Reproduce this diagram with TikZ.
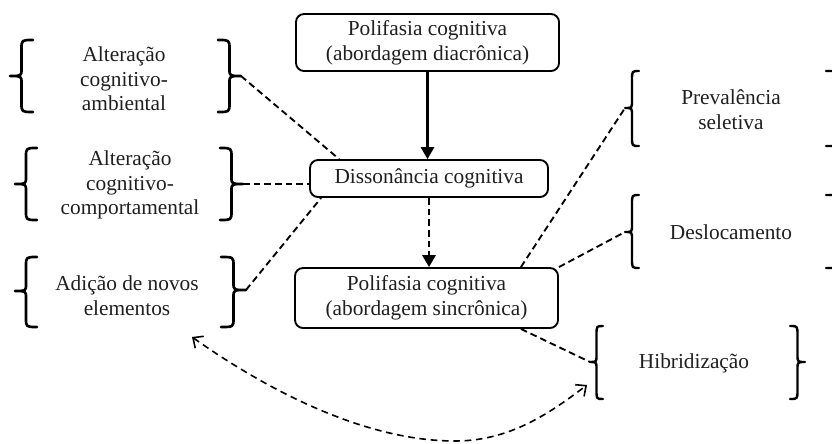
\documentclass[tikz,border=0pt]{standalone}
\usepackage{fontspec}
\setmainfont{Liberation Serif}
\usetikzlibrary{arrows.meta,calc}

% curly bracket: #2 x of the tip, #3 x of both ends, #4 top y, #5 bottom y, #6 y of the tip
\newcommand{\drawcurly}[6][]{%
  \draw[bracestyle,#1] (#3,#4)
    .. controls ({(#2+#3)/2},#4) .. ({(#2+#3)/2},{#4+9})
    -- ({(#2+#3)/2},{#6-7})
    .. controls ({(#2+#3)/2},#6) .. (#2,#6)
    .. controls ({(#2+#3)/2},#6) .. ({(#2+#3)/2},{#6+7})
    -- ({(#2+#3)/2},{#5-9})
    .. controls ({(#2+#3)/2},#5) .. (#3,#5);}

\tikzset{
  box/.style={draw, line width=1.4pt, rounded corners=6pt, align=center,
    font=\fontsize{16}{18.5}\selectfont, text=black!88, inner sep=0pt},
  lbl/.style={align=center, font=\fontsize{16}{18.5}\selectfont, text=black!88, inner sep=0pt},
  bracestyle/.style={line width=2pt, line cap=round, line join=round},
  dashline/.style={line width=1.4pt, dash pattern=on 5pt off 3pt},
  solidarrow/.style={line width=1.6pt, -{Triangle[length=9pt,width=10pt]}},
  dasharrow/.style={dashline, line width=1.6pt, -{Triangle[length=9pt,width=10pt]}},
  curvearrow/.style={line width=1.2pt, dash pattern=on 5pt off 3.5pt,
    {Straight Barb[length=6pt,width=11pt,line width=1.2pt]}-{Straight Barb[length=6pt,width=11pt,line width=1.2pt]}},
}

\begin{document}
\begin{tikzpicture}[x=0.75pt, y=-0.75pt]
  \useasboundingbox (0,0) rectangle (832,443);

  % central chain
  \node[box, minimum width=197.25pt, minimum height=42.75pt] (dia) at (427.5,42.5)
    {Polifasia cognitiva\\(abordagem diacrônica)};
  \node[box, minimum width=178.5pt, minimum height=27.75pt] (diss) at (429,178.5)
    {Dissonância cognitiva};
  \node[box, minimum width=197.25pt, minimum height=45pt] (syn) at (426.5,298)
    {Polifasia cognitiva\\(abordagem sincrônica)};

  \draw[solidarrow] (dia.south) -- (dia.south |- diss.north);
  \draw[dasharrow] (diss.south) -- (diss.south |- syn.north);

  % left group
  \node[lbl] (amb) at (124,79) {Alteração\\cognitivo-\\ambiental};
  \node[lbl] (comp) at (130,185) {Alteração\\cognitivo-\\comportamental};
  \node[lbl] (novos) at (127,296) {Adição de novos\\elementos};

  \drawcurly{10}{33}{40}{112}{76}
  \drawcurly{241}{218}{40}{112}{76}
  \drawcurly{15}{37}{148}{220}{184}
  \drawcurly{243}{220}{148}{220}{184}
  \drawcurly{15}{37}{257}{327}{291}
  \drawcurly{246}{221}{257}{327}{290}

  \coordinate (b1) at (241,76);
  \coordinate (b2) at (243,184);
  \coordinate (b3) at (246,290);

  \draw[dashline] (b1) -- ($(diss.north west)+(30,0)$);
  \draw[dashline] (b2) -- (diss.west |- b2);
  \draw[dashline] (b3) -- ($(diss.south west)+(12,0)$);

  % right group
  \node[lbl] (prev) at (731,110) {Prevalência\\seletiva};
  \node[lbl] (desl) at (731,232) {Deslocamento};
  \node[lbl] (hib) at (694,363) {Hibridização};

  \drawcurly[line width=1.8pt]{625}{639}{71}{146}{108}
  \drawcurly[line width=1.8pt]{860}{826}{71}{146}{108}
  \drawcurly[line width=1.8pt]{625}{639}{195}{268}{232}
  \drawcurly[line width=1.8pt]{860}{826}{195}{268}{232}
  \drawcurly[line width=1.8pt]{590}{603}{326}{399}{362}
  \drawcurly[line width=1.8pt]{805}{790}{326}{399}{362}

  \coordinate (p1) at (625,108);
  \coordinate (p2) at (625,232);
  \coordinate (p3) at (590,362);

  \draw[dashline] ($(syn.north east)+(-38,0)$) -- (p1);
  \draw[dashline] (syn.north east) -- (p2);
  \draw[dashline] ($(syn.south east)+(-38,0)$) -- (p3);

  % two-way link between the added elements and hybridisation
  \coordinate (cvA) at (192,337);
  \coordinate (cvB) at (587,385);
  \draw[curvearrow] (cvA) .. controls (260,385) and (360,441) .. (455,441)
    .. controls (510,441) and (550,413) .. (cvB);
\end{tikzpicture}
\end{document}
